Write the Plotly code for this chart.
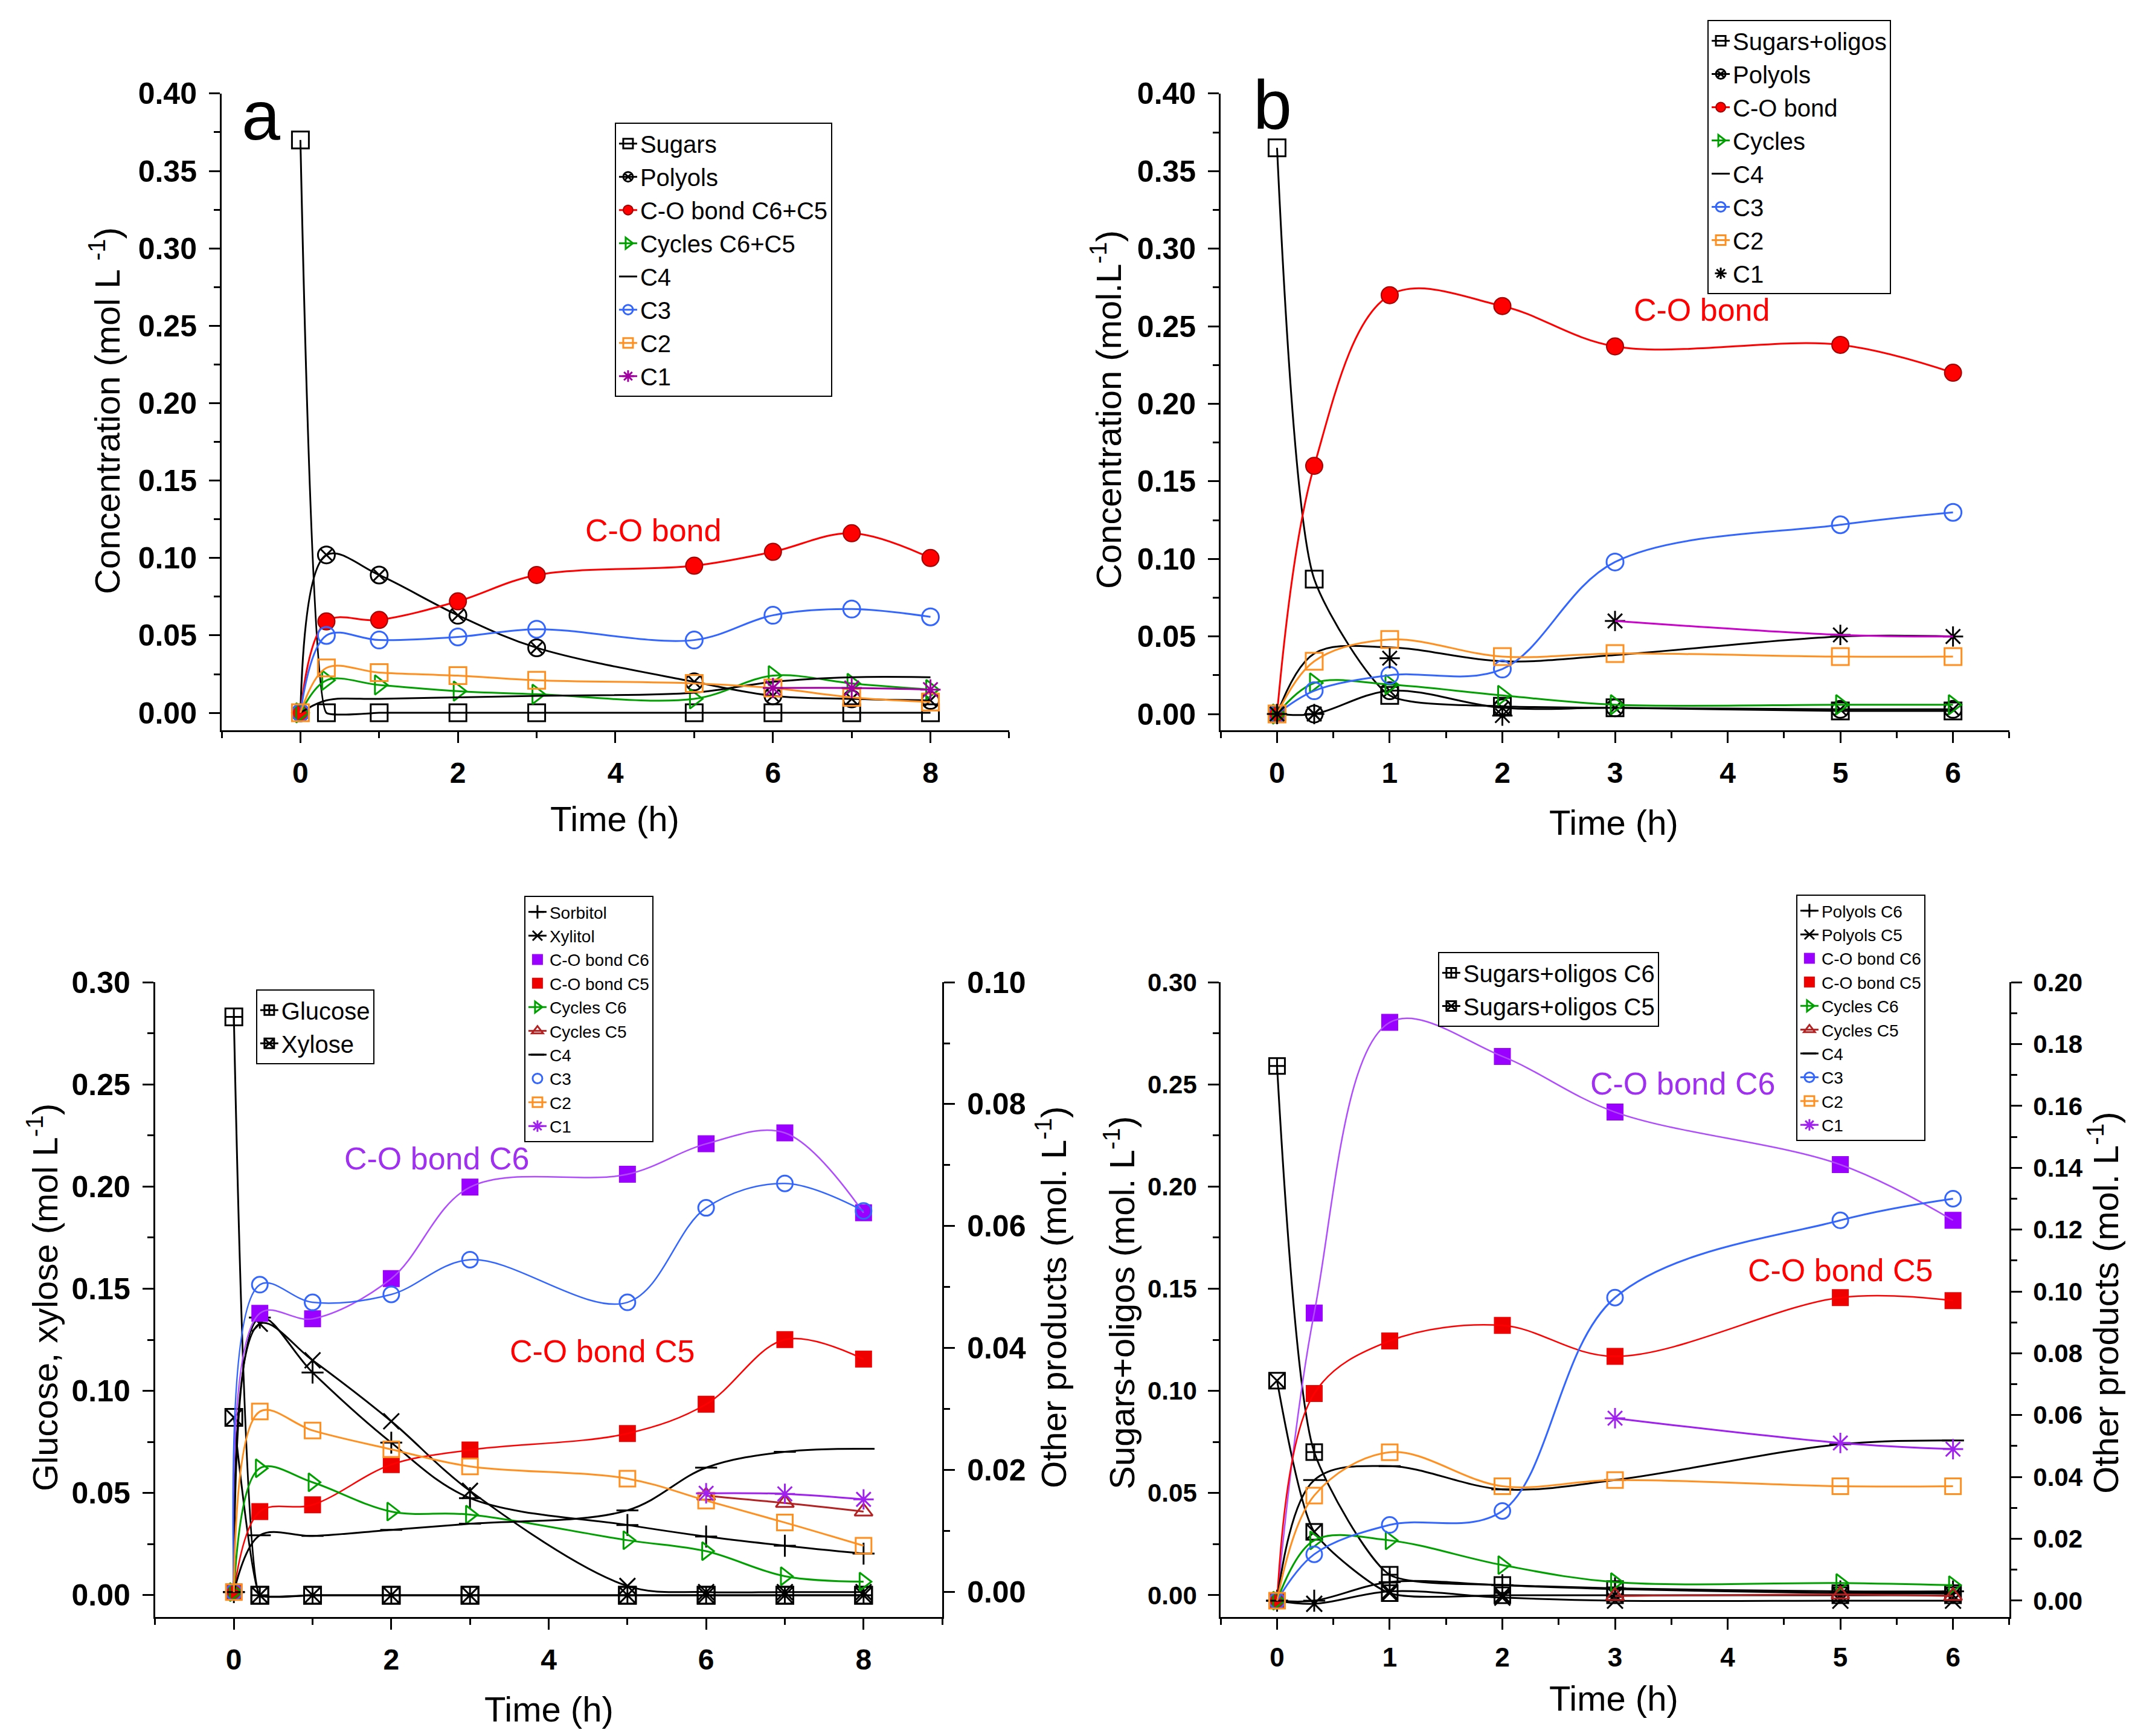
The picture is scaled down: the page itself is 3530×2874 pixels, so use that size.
import plotly.graph_objects as go

FONT = "Liberation Sans, Arial, sans-serif"

# ---------------- Panel a ----------------
t_a = [0, 0.33, 1, 2, 3, 5, 6, 7, 8]
a_sugars = [0.370, 0.0, 0.0, 0.0, 0.0, 0.0, 0.0, 0.0, 0.0]
a_polyols = [0.0, 0.102, 0.089, 0.063, 0.042, 0.020, 0.011, 0.009, 0.008]
a_co_bond = [0.0, 0.059, 0.060, 0.072, 0.089, 0.095, 0.104, 0.116, 0.100]
a_cycles = [0.0, 0.021, 0.018, 0.014, 0.012, 0.009, 0.024, 0.019, 0.015]
a_c4 = [0.0, 0.008, 0.009, 0.010, 0.011, 0.013, 0.020, 0.023, 0.023]
a_c3 = [0.0, 0.050, 0.047, 0.049, 0.054, 0.047, 0.063, 0.067, 0.062]
a_c2 = [0.0, 0.029, 0.026, 0.024, 0.021, 0.019, 0.016, 0.010, 0.007]
t_a_c1 = [6, 7, 8]
a_c1 = [0.016, 0.016, 0.015]

# ---------------- Panel b ----------------
t_b = [0, 0.33, 1, 2, 3, 5, 6]
b_sugars = [0.365, 0.087, 0.012, 0.005, 0.004, 0.002, 0.002]
b_polyols = [0.0, 0.0, 0.015, 0.004, 0.004, 0.003, 0.003]
b_co_bond = [0.0, 0.160, 0.270, 0.263, 0.237, 0.238, 0.220]
b_cycles = [0.0, 0.020, 0.019, 0.012, 0.006, 0.006, 0.006]
b_c4 = [0.0, 0.039, 0.043, 0.034, 0.038, 0.050, 0.050]
b_c3 = [0.0, 0.015, 0.025, 0.029, 0.098, 0.122, 0.130]
b_c2 = [0.0, 0.034, 0.048, 0.037, 0.039, 0.037, 0.037]
b_c1 = [0.0, 0.0, 0.036, -0.001, 0.060, 0.051, 0.050]

# ---------------- Panel a' ----------------
t_ap = [0, 0.33, 1, 2, 3, 5, 6, 7, 8]
ap_glucose = [0.283, 0.0, 0.0, 0.0, 0.0, 0.0, 0.0, 0.0, 0.0]
ap_xylose = [0.087, 0.0, 0.0, 0.0, 0.0, 0.0, 0.0, 0.0, 0.0]
ap_sorbitol = [0.0, 0.045, 0.036, 0.0245, 0.0154, 0.011, 0.0091, 0.0076, 0.0063]
ap_xylitol = [0.0, 0.044, 0.038, 0.028, 0.0166, 0.001, 0.0, 0.0, 0.0]
ap_co_c6 = [0.0, 0.0457, 0.0448, 0.0514, 0.0664, 0.0685, 0.0735, 0.0753, 0.0622]
ap_co_c5 = [0.0, 0.0132, 0.0143, 0.0209, 0.0233, 0.0260, 0.0308, 0.0414, 0.0382]
ap_cyc_c6 = [0.0, 0.0203, 0.0180, 0.0132, 0.0127, 0.0085, 0.0067, 0.0026, 0.0017]
t_ap_late = [6, 7, 8]
ap_cyc_c5 = [0.0158, 0.0146, 0.0132]
ap_c4 = [0.0, 0.0093, 0.0092, 0.0102, 0.0112, 0.0134, 0.0204, 0.0230, 0.0235]
ap_c3 = [0.0, 0.0504, 0.0475, 0.0488, 0.0545, 0.0475, 0.0630, 0.0670, 0.0625]
ap_c2 = [0.0, 0.0296, 0.0265, 0.0234, 0.0206, 0.0186, 0.0150, 0.0114, 0.0076]
ap_c1 = [0.0162, 0.0161, 0.0152]

# ---------------- Panel b' ----------------
t_bp = [0, 0.33, 1, 2, 3, 5, 6]
bp_sug_c6 = [0.259, 0.070, 0.010, 0.005, 0.003, 0.001, 0.001]
bp_sug_c5 = [0.105, 0.031, 0.001, 0.0, 0.0, 0.0, 0.0]
bp_pol_c6 = [0.0, 0.0, 0.006, 0.005, 0.004, 0.003, 0.003]
bp_pol_c5 = [0.0, -0.001, 0.003, 0.001, 0.0, 0.0, 0.0]
bp_co_c6 = [0.0, 0.093, 0.187, 0.176, 0.158, 0.141, 0.123]
bp_co_c5 = [0.0, 0.067, 0.084, 0.089, 0.079, 0.098, 0.097]
bp_cyc_c6 = [0.0, 0.0195, 0.0195, 0.0115, 0.0060, 0.0057, 0.0050]
t_bp_late = [3, 5, 6]
bp_cyc_c5 = [0.0015, 0.0020, 0.0015]
bp_c4 = [0.0, 0.039, 0.0435, 0.036, 0.039, 0.0506, 0.0518]
bp_c3 = [0.0, 0.015, 0.0245, 0.029, 0.098, 0.123, 0.130]
bp_c2 = [0.0, 0.034, 0.048, 0.037, 0.039, 0.037, 0.037]
bp_c1 = [0.059, 0.051, 0.049]

BLACK = '#000000'
RED = '#FF0000'
GREEN = '#00A000'
BLUE = '#3366FF'
ORANGE = '#FF9020'
MAG = '#A000A0'
VIOLET = '#9900FF'
VIOLET_L = '#B04CFF'
DKRED = '#B22222'

fig = go.Figure()


def add(x, y, name, color, symbol=None, size=28, xa='x', ya='y', lg='legend',
        mode='lines+markers', showlegend=True, smoothing=1.0, filled=False,
        outline=None, lw=3, linecolor=None):
    marker = None
    if symbol is not None:
        if filled:
            marker = dict(symbol=symbol, size=size, color=color,
                          line=dict(color=outline or color, width=2))
        else:
            marker = dict(symbol=symbol, size=size, color=color,
                          line=dict(color=color, width=3))
    line = dict(color=linecolor or color, width=lw, shape='spline', smoothing=smoothing)
    fig.add_trace(go.Scatter(x=x, y=y, name=name, mode=mode, marker=marker, line=line,
                             xaxis=xa, yaxis=ya, legend=lg, showlegend=showlegend,
                             cliponaxis=False))


# ---- a ----
add(t_a, a_sugars, 'Sugars', BLACK, 'square-open', smoothing=0.3)
add(t_a, a_polyols, 'Polyols', BLACK, 'circle-x-open')
add(t_a, a_co_bond, 'C-O bond C6+C5', RED, 'circle', filled=True, outline='#A00000')
add(t_a, a_cycles, 'Cycles C6+C5', GREEN, 'triangle-right-open')
add(t_a, a_c4, 'C4', BLACK, mode='lines')
add(t_a, a_c3, 'C3', BLUE, 'circle-open')
add(t_a, a_c2, 'C2', ORANGE, 'square-open')
add(t_a_c1, a_c1, 'C1', MAG, 'asterisk-open')

# ---- b ----
kw = dict(xa='x2', ya='y2', lg='legend2')
add(t_b, b_sugars, 'Sugars+oligos', BLACK, 'square-open', smoothing=0.6, **kw)
add(t_b, b_polyols, 'Polyols', BLACK, 'circle-x-open', **kw)
add(t_b, b_co_bond, 'C-O bond', RED, 'circle', filled=True, outline='#A00000', **kw)
add(t_b, b_cycles, 'Cycles', GREEN, 'triangle-right-open', **kw)
add(t_b, b_c4, 'C4', BLACK, mode='lines', **kw)
add(t_b, b_c3, 'C3', BLUE, 'circle-open', **kw)
add(t_b, b_c2, 'C2', ORANGE, 'square-open', **kw)
add(t_b, b_c1, 'C1', BLACK, 'asterisk-open', mode='markers', **kw)
add(t_b[4:], b_c1[4:], 'C1 line', '#CC00CC', mode='lines', showlegend=False, **kw)

# ---- a' ----
kl = dict(xa='x3', ya='y3', lg='legend3')
kr = dict(xa='x3', ya='y4', lg='legend4')
add(t_ap, ap_glucose, 'Glucose', BLACK, 'square-cross-open', smoothing=0.3, **kl)
add(t_ap, ap_xylose, 'Xylose', BLACK, 'square-x-open', smoothing=0.3, **kl)
add(t_ap, ap_sorbitol, 'Sorbitol', BLACK, 'cross-thin-open', size=26, **kr)
add(t_ap, ap_xylitol, 'Xylitol', BLACK, 'x-thin-open', size=26, **kr)
add(t_ap, ap_co_c6, 'C-O bond C6', VIOLET, 'square', size=26, filled=True, mode='markers', **kr)
add(t_ap, ap_co_c6, 'C-O bond C6 line', VIOLET_L, mode='lines', showlegend=False, lw=2.5, **kr)
add(t_ap, ap_co_c5, 'C-O bond C5', '#EE0000', 'square', size=26, filled=True, mode='markers', **kr)
add(t_ap, ap_co_c5, 'C-O bond C5 line', RED, mode='lines', showlegend=False, lw=2.5, **kr)
add(t_ap, ap_cyc_c6, 'Cycles C6', GREEN, 'triangle-right-open', size=26, **kr)
add(t_ap_late, ap_cyc_c5, 'Cycles C5', DKRED, 'triangle-up-open', size=26, **kr)
add(t_ap, ap_c4, 'C4', BLACK, 'line-ew-open', size=26, **kr)
add(t_ap, ap_c3, 'C3', BLUE, 'circle-open', size=26, mode='markers', **kr)
add(t_ap, ap_c3, 'C3 line', BLUE, mode='lines', showlegend=False, lw=2.5, **kr)
add(t_ap, ap_c2, 'C2', ORANGE, 'square-open', size=26, **kr)
add(t_ap_late, ap_c1, 'C1', '#A020F0', 'asterisk-open', size=28, **kr)

# ---- b' ----
kl = dict(xa='x4', ya='y5', lg='legend5')
kr = dict(xa='x4', ya='y6', lg='legend6')
add(t_bp, bp_sug_c6, 'Sugars+oligos C6', BLACK, 'square-cross-open', size=26, smoothing=0.6, **kl)
add(t_bp, bp_sug_c5, 'Sugars+oligos C5', BLACK, 'square-x-open', size=26, smoothing=0.6, **kl)
add(t_bp, bp_pol_c6, 'Polyols C6', BLACK, 'cross-thin-open', size=26, **kr)
add(t_bp, bp_pol_c5, 'Polyols C5', BLACK, 'x-thin-open', size=26, **kr)
add(t_bp, bp_co_c6, 'C-O bond C6', VIOLET, 'square', size=26, filled=True, mode='markers', **kr)
add(t_bp, bp_co_c6, 'C-O bond C6 line', VIOLET_L, mode='lines', showlegend=False, lw=2.5, **kr)
add(t_bp, bp_co_c5, 'C-O bond C5', '#EE0000', 'square', size=26, filled=True, mode='markers', **kr)
add(t_bp, bp_co_c5, 'C-O bond C5 line', RED, mode='lines', showlegend=False, lw=2.5, **kr)
add(t_bp, bp_cyc_c6, 'Cycles C6', GREEN, 'triangle-right-open', size=26, **kr)
add(t_bp_late, bp_cyc_c5, 'Cycles C5', DKRED, 'triangle-up-open', size=26, **kr)
add(t_bp, bp_c4, 'C4', BLACK, 'line-ew-open', size=26, **kr)
add(t_bp, bp_c3, 'C3', BLUE, 'circle-open', size=26, **kr)
add(t_bp, bp_c2, 'C2', ORANGE, 'square-open', size=26, **kr)
add(t_bp_late, bp_c1, 'C1', '#A020F0', 'asterisk-open', size=28, **kr)


def xax(domain, rng, dtick, mdtick, anchor, fs=48):
    return dict(domain=domain, range=rng, anchor=anchor, showline=True, linewidth=3,
                linecolor='black', ticks='outside', ticklen=18, tickwidth=3,
                tickcolor='black', dtick=dtick, tick0=0, showgrid=False, zeroline=False,
                automargin=False,
                tickfont=dict(size=fs, family=FONT, weight='bold', color='black'),
                ticklabelstandoff=8,
                minor=dict(ticks='outside', ticklen=10, tickwidth=3, tickcolor='black',
                           dtick=mdtick, tick0=0, showgrid=False))


def yax(domain, rng, dtick, mdtick, anchor, side='left', overlaying=None, fs=50):
    d = dict(range=rng, anchor=anchor, side=side, showline=True, linewidth=3,
             linecolor='black', ticks='outside', ticklen=18, tickwidth=3,
             tickcolor='black', dtick=dtick, tick0=0, tickformat='.2f', showgrid=False,
             zeroline=False, ticklabelstandoff=10, automargin=False,
             tickfont=dict(size=fs, family=FONT, weight='bold', color='black'),
             minor=dict(ticks='outside', ticklen=10, tickwidth=3, tickcolor='black',
                        dtick=mdtick, tick0=0, showgrid=False))
    if overlaying:
        d['overlaying'] = overlaying
    else:
        d['domain'] = domain
    return d


top_dom = [0.5821, 0.9489]
bot_dom = [0.0713, 0.4370]

fig.update_layout(
    width=3530, height=2874, autosize=False,
    margin=dict(l=0, r=0, t=0, b=0, pad=0, autoexpand=False),
    paper_bgcolor='white', plot_bgcolor='white',
    font=dict(family=FONT, color='black'),
    xaxis=xax([0.1017, 0.4711], [-1, 9], 2, 1, 'y'),
    yaxis=yax(top_dom, [-0.0113, 0.40], 0.05, 0.025, 'x'),
    xaxis2=xax([0.5703, 0.9402], [-0.5, 6.5], 1, 0.5, 'y2'),
    yaxis2=yax(top_dom, [-0.0105, 0.40], 0.05, 0.025, 'x2'),
    xaxis3=xax([0.0705, 0.4397], [-1, 9], 2, 1, 'y3'),
    yaxis3=yax(bot_dom, [-0.0107, 0.30], 0.05, 0.025, 'x3'),
    yaxis4=yax(None, [-0.0041, 0.10], 0.02, 0.01, 'x3', side='right', overlaying='y3'),
    xaxis4=xax([0.5703, 0.9402], [-0.5, 6.5], 1, 0.5, 'y5', fs=44),
    yaxis5=yax(bot_dom, [-0.0107, 0.30], 0.05, 0.025, 'x4', fs=42),
    yaxis6=yax(None, [-0.0053, 0.20], 0.02, 0.01, 'x4', side='right', overlaying='y5', fs=42),
)


def leg(x, y, fs):
    return dict(x=x, y=y, xanchor='left', yanchor='top', bgcolor='white',
                bordercolor='black', borderwidth=2, tracegroupgap=0,
                font=dict(size=fs, family=FONT, color='black'), itemwidth=30)


fig.update_layout(
    legend=leg(0.2861, 0.9321, 40),
    legend2=leg(0.7986, 0.9913, 40),
    legend3=leg(0.1178, 0.4329, 40),
    legend4=leg(0.2436, 0.4868, 28),
    legend5=leg(0.6722, 0.4544, 40),
    legend6=leg(0.8402, 0.4875, 28),
)

TF = dict(family=FONT, size=58, color='black')
C = dict(xanchor='center', yanchor='middle', showarrow=False)
ann = []
# axis titles
ann.append(dict(text='Time (h)', x=0.2861, y=0.5310, xref='paper', yref='paper', font=TF, **C))
ann.append(dict(text='Time (h)', x=0.7547, y=0.5292, xref='paper', yref='paper', font=TF, **C))
ann.append(dict(text='Time (h)', x=0.2552, y=0.0184, xref='paper', yref='paper', font=TF, **C))
ann.append(dict(text='Time (h)', x=0.7547, y=0.0247, xref='paper', yref='paper', font=TF, **C))
ann.append(dict(text='Concentration (mol L <sup>-1</sup>)', x=0.0470, y=0.7662, xref='paper', yref='paper',
                textangle=-90, font=TF, **C))
ann.append(dict(text='Concentration (mol.L<sup>-1</sup>)', x=0.5167, y=0.7669, xref='paper', yref='paper',
                textangle=-90, font=TF, **C))
ann.append(dict(text='Glucose, xylose (mol L<sup>-1</sup>)', x=0.0178, y=0.2554, xref='paper', yref='paper',
                textangle=-90, font=TF, **C))
ann.append(dict(text='Other products (mol. L<sup>-1</sup>)', x=0.4909, y=0.2554, xref='paper', yref='paper',
                textangle=-90, font=TF, **C))
ann.append(dict(text='Sugars+oligos (mol. L<sup>-1</sup>)', x=0.5229, y=0.2523, xref='paper', yref='paper',
                textangle=-90, font=TF, **C))
ann.append(dict(text='Other products (mol. L<sup>-1</sup>)', x=0.9844, y=0.2523, xref='paper', yref='paper',
                textangle=-90, font=TF, **C))
# panel letters
LF = dict(family=FONT, size=115, color='black')
ann.append(dict(text='a', x=-0.5, y=0.386, xref='x', yref='y', font=LF, **C))
ann.append(dict(text='b', x=-0.04, y=0.393, xref='x2', yref='y2', font=LF, **C))
ann.append(dict(text="a'", x=-0.35, y=0.305, xref='x3', yref='y3', font=LF, **C))
ann.append(dict(text="b'", x=-0.05, y=0.305, xref='x4', yref='y5', font=LF, **C))
# series labels
ann.append(dict(text='C-O bond', x=4.48, y=0.118, xref='x', yref='y',
                font=dict(family=FONT, size=52, color=RED), **C))
ann.append(dict(text='C-O bond', x=3.77, y=0.2606, xref='x2', yref='y2',
                font=dict(family=FONT, size=52, color=RED), **C))
ann.append(dict(text='C-O bond C6', x=2.58, y=0.2138, xref='x3', yref='y3',
                font=dict(family=FONT, size=52, color='#A030F0'), **C))
ann.append(dict(text='C-O bond C5', x=4.68, y=0.1195, xref='x3', yref='y3',
                font=dict(family=FONT, size=52, color=RED), **C))
ann.append(dict(text='C-O bond C6', x=3.6, y=0.2503, xref='x4', yref='y5',
                font=dict(family=FONT, size=52, color='#A030F0'), **C))
ann.append(dict(text='C-O bond C5', x=5.0, y=0.159, xref='x4', yref='y5',
                font=dict(family=FONT, size=52, color=RED), **C))
fig.update_layout(annotations=ann)

fig.write_html("out.html")
